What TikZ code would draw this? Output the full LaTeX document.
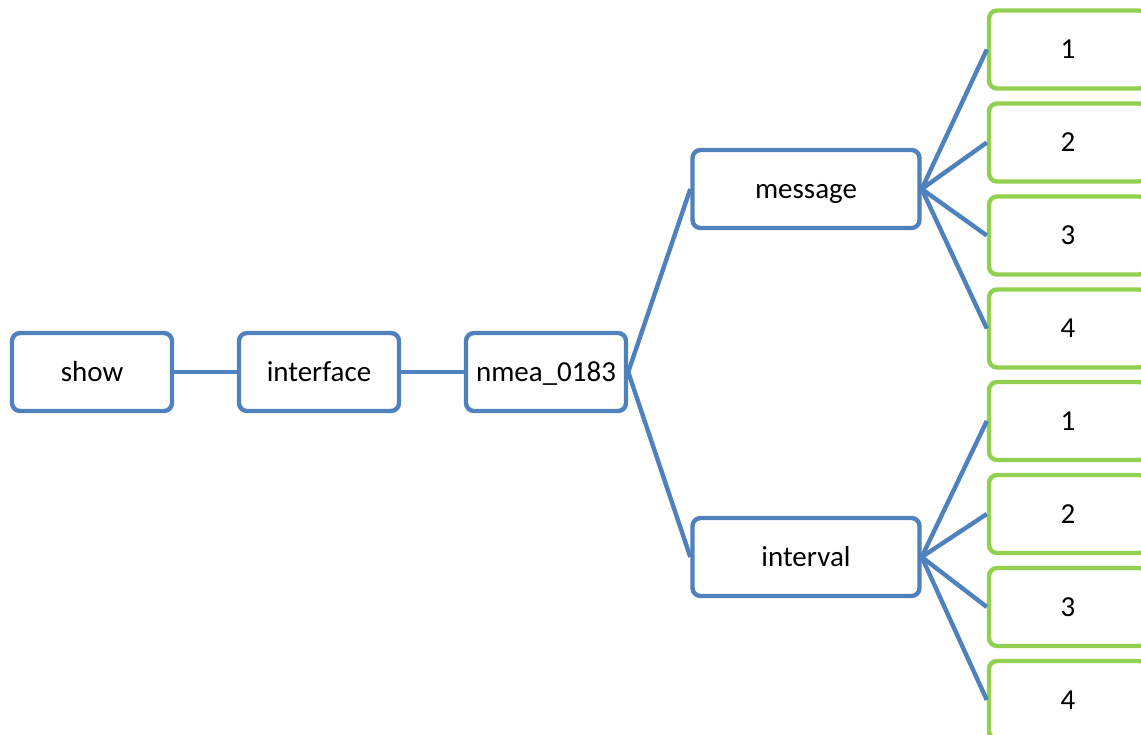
\documentclass[tikz,border=0pt]{standalone}
\usepackage{fontspec}
\setmainfont{Carlito}
\usetikzlibrary{positioning}
\definecolor{boxblue}{HTML}{4F81BD}
\definecolor{leafgreen}{HTML}{92D050}

\begin{document}
\begin{tikzpicture}[x=0.5pt,y=-0.5pt,
  box/.style={draw=boxblue,line width=2.2pt,rounded corners=4pt,fill=white,
    minimum width=80pt,minimum height=39pt,inner sep=0pt,
    text height=11pt,text depth=2pt,
    font=\fontsize{14.5}{17}\selectfont},
  leaf/.style={box,draw=leafgreen,minimum width=79pt},
  link/.style={boxblue,line width=2.2pt}]
  \clip (0,0) rectangle (1141,734);
  \node[box] (show) at (92,372) {show};
  \node[box] (iface) at (319,372) {interface};
  \node[box] (nmea) at (546,372) {nmea\_0183};
  \node[box,minimum width=113.5pt] (msg) at (806,189) {message};
  \node[box,minimum width=113.5pt] (intv) at (806,557) {interval};
  \foreach \k in {1,...,4} {
    \node[leaf] (m\k) at (1068,{49.5+93*(\k-1)}) {\k};
    \node[leaf] (i\k) at (1068,{421+93*(\k-1)}) {\k};
  }
  \draw[link] (show) -- (iface);
  \draw[link] (iface) -- (nmea);
  \draw[link] (nmea.east) -- (msg.west);
  \draw[link] (nmea.east) -- (intv.west);
  \foreach \k in {1,...,4} {
    \draw[link] (msg.east) -- (m\k.west);
    \draw[link] (intv.east) -- (i\k.west);
  }
\end{tikzpicture}
\end{document}
